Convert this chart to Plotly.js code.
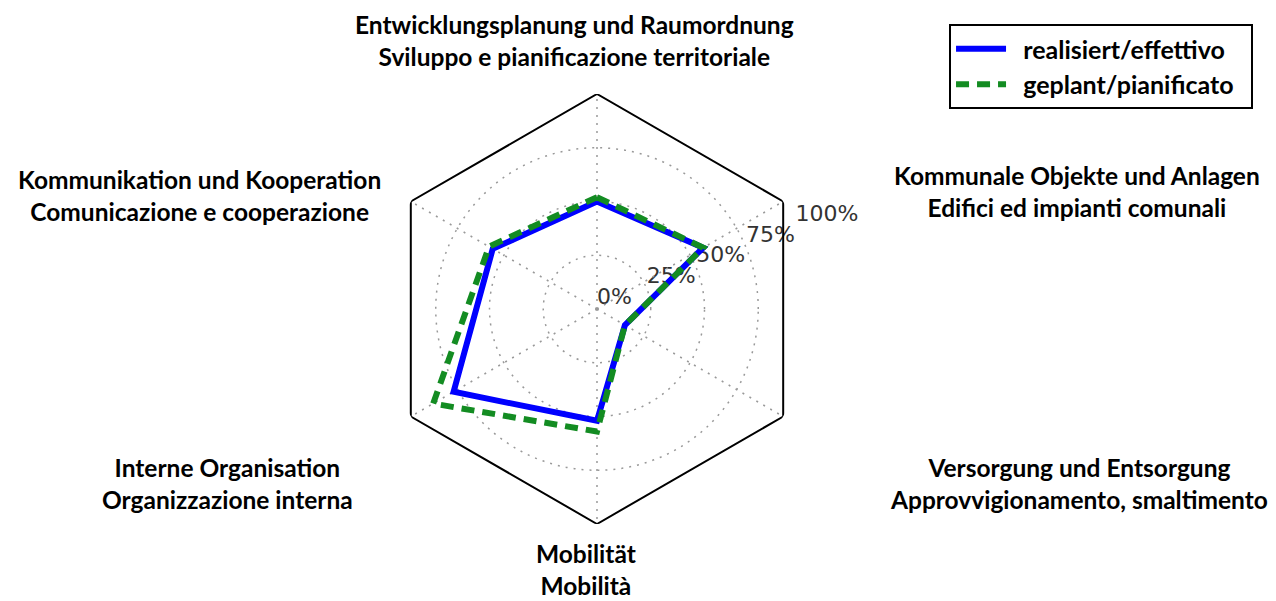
<!DOCTYPE html>
<html>
<head>
<meta charset="utf-8">
<script src="https://cdn.plot.ly/plotly-3.0.1.min.js"></script>
<style>html,body{margin:0;padding:0;background:#fff;}#chart{width:1276px;height:601px;}</style>
</head>
<body>
<div id="chart"></div>
<script>
// Categories (German / Italian)
var categories = [
  "Entwicklungsplanung und Raumordnung<br>Sviluppo e pianificazione territoriale",
  "Kommunale Objekte und Anlagen<br>Edifici ed impianti comunali",
  "Versorgung und Entsorgung<br>Approvvigionamento, smaltimento",
  "Mobilität<br>Mobilità",
  "Interne Organisation<br>Organizzazione interna",
  "Kommunikation und Kooperation<br>Comunicazione e cooperazione"
];
var realisiert = [50, 57, 15, 52, 77, 56];
var geplant    = [52, 57, 15, 57, 88, 58];
var frameR     = [100, 100, 100, 100, 100, 100];
var radialTicks = [0, 25, 50, 75, 100];
var radialTickText = ["0%", "25%", "50%", "75%", "100%"];
var radialLabelAngle = 22.5;
var seriesNames = ["realisiert/effettivo", "geplant/pianificato"];

function closed(a) { return a.concat([a[0]]); }
function pad(s) { return "\u00a0\u00a0" + s + "\u00a0\u00a0"; }

// label placement (paper fractions)
var labelPos = [
  [0.450, 0.932],
  [0.844, 0.682],
  [0.846, 0.196],
  [0.459, 0.052],
  [0.178, 0.195],
  [0.156, 0.674]
];

var traces = [
  {
    type: "scatterpolar", subplot: "polar",
    r: radialTicks, theta: radialTicks.map(function () { return radialLabelAngle; }),
    mode: "text", text: radialTickText, textposition: "top right",
    textfont: {family: "DejaVu Sans", size: 22, color: "#333"},
    showlegend: false, hoverinfo: "skip", cliponaxis: false
  },
  {
    type: "scatterpolar", subplot: "polar2", r: closed(frameR), theta: closed(categories),
    mode: "lines", line: {color: "#000", width: 2}, showlegend: false, hoverinfo: "skip"
  },
  {
    type: "scatterpolar", subplot: "polar2", r: closed(realisiert), theta: closed(categories),
    mode: "lines", name: pad(seriesNames[0]), legendgroup: "a",
    line: {color: "#0000ff", width: 6}
  },
  {
    type: "scatterpolar", subplot: "polar2", r: closed(geplant), theta: closed(categories),
    mode: "lines", name: pad(seriesNames[1]), legendgroup: "b",
    line: {color: "#138c22", width: 6, dash: "13px,8px"}
  }
];

var annotations = categories.map(function (c, i) {
  return {
    text: c, xref: "paper", yref: "paper", x: labelPos[i][0], y: labelPos[i][1],
    xanchor: "center", yanchor: "middle", showarrow: false, align: "center",
    font: {family: "Lato, sans-serif", size: 24.5, color: "#000", weight: "bold"}
  };
});

var dom = {x: [0.29937, 0.63636], y: [0.12812, 0.84359]};

var layout = {
  width: 1276, height: 601,
  margin: {l: 0, r: 0, t: 0, b: 0},
  paper_bgcolor: "#fff",
  showlegend: true,
  legend: {
    x: 0.982, xanchor: "right", y: 0.96, yanchor: "top",
    bordercolor: "#000", borderwidth: 2, bgcolor: "#fff",
    font: {family: "Lato, sans-serif", size: 25, color: "#000", weight: "bold"},
    itemwidth: 50, tracegroupgap: 0
  },
  polar: {
    domain: dom,
    bgcolor: "rgba(0,0,0,0)",
    radialaxis: {range: [0, 100], visible: false},
    angularaxis: {visible: false, rotation: 0, direction: "counterclockwise", thetaunit: "degrees"}
  },
  polar2: {
    domain: dom,
    bgcolor: "rgba(0,0,0,0)",
    gridshape: "circular",
    radialaxis: {
      range: [0, 100], angle: radialLabelAngle,
      tickvals: radialTicks, showticklabels: false,
      showline: false, ticks: "",
      showgrid: true, gridcolor: "#999", griddash: "2px,6px", gridwidth: 1.5
    },
    angularaxis: {
      direction: "clockwise", rotation: 90,
      showticklabels: false, ticks: "", showline: false,
      showgrid: true, gridcolor: "#999", griddash: "2px,6px", gridwidth: 1.5
    }
  },
  annotations: annotations
};

Plotly.newPlot("chart", traces, layout, {displayModeBar: false, staticPlot: true});
</script>
</body>
</html>
